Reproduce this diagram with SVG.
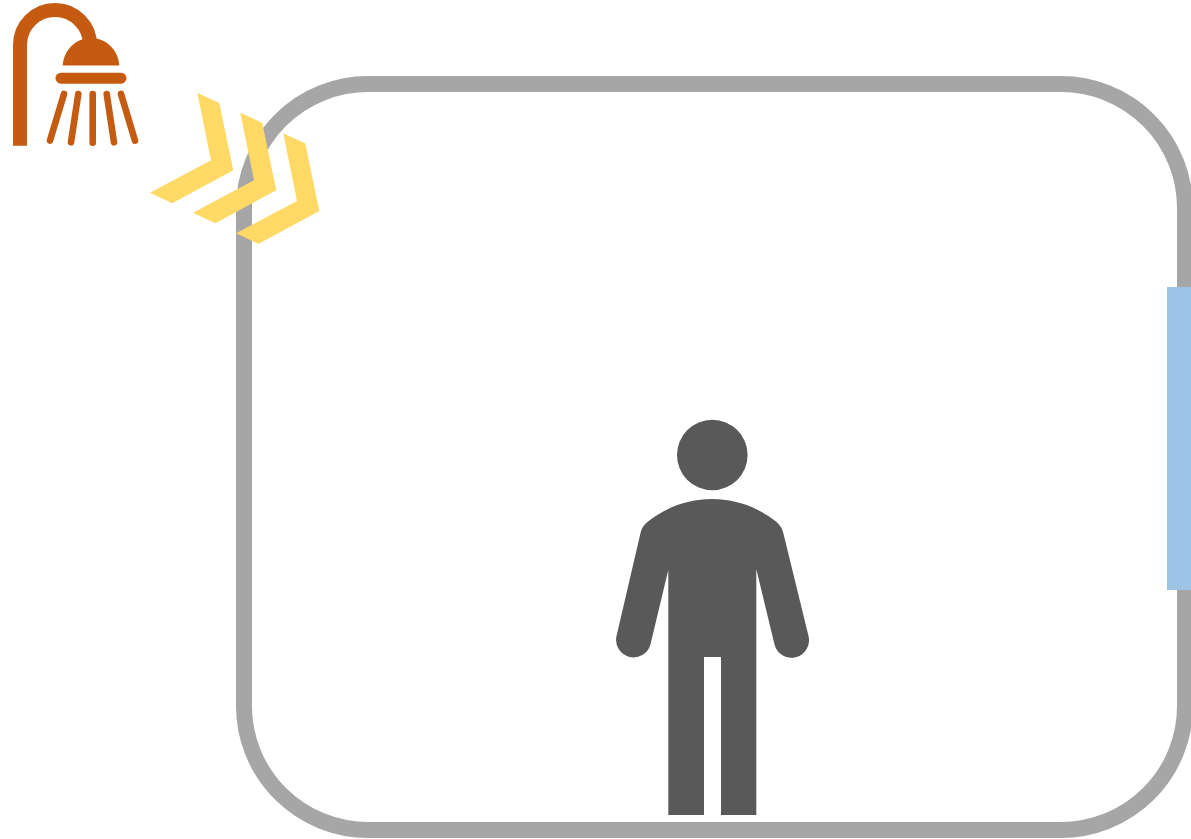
<svg xmlns="http://www.w3.org/2000/svg" width="1191" height="839" viewBox="0 0 1191 839">
<defs>
<path id="chev" d="M197.3 92.7 L219.3 103 L233.3 170.3 L172.3 203.3 L150 192.7 L211 160.3 Z"/>
</defs>
<style>
.o{fill:#c55a11}
.j{stroke:#c55a11;stroke-width:6.6;stroke-linecap:round;fill:none}
.c{fill:#ffd966}
.p{fill:#595959}
</style>
<rect width="1191" height="839" fill="#ffffff"/>
<g id="room">
<rect x="244" y="84" width="941" height="746" rx="124" ry="124" fill="none" stroke="#a6a6a6" stroke-width="16"/>
<rect x="1167" y="287" width="24" height="303" fill="#9dc3e6"/>
</g>
<g id="shower">
<path d="M20 145.7 V45 A35 35 0 0 1 90 45" fill="none" stroke="#c55a11" stroke-width="14"/>
<path class="o" d="M62.7 65.6 C63.5 50 76 38 91 38 C106 38 118.5 50 119.3 65.6 Z"/>
<rect class="o" x="55.5" y="72.7" width="71" height="11" rx="5.5"/>
<path class="j" d="M64 94 L50 140.5 M78.3 94 L71 142.3 M92.7 94 V142.7 M106.7 94 L114 142.3 M121 94 L135 140.7"/>
</g>
<g id="airflow">
<use href="#chev" class="c"/>
<use href="#chev" class="c" x="43" y="20"/>
<use href="#chev" class="c" x="86" y="40.6"/>
</g>
<g id="person">
<circle class="p" cx="712.3" cy="455" r="35.3"/>
<path class="p" d="M668.3 570 L650.3 645 A17.5 17.5 0 0 1 616.3 637 L640.5 533 Q642 526 648 521.5 C668 506 690 499 712 499 C734 499 756 506 776 521.5 Q781.5 526 783.3 533 L808.5 636.1 A17.5 17.5 0 0 1 774.5 644.5 L756.3 569 V815 H721 V657 H704 V815 H668.3 Z"/>
</g>
</svg>
